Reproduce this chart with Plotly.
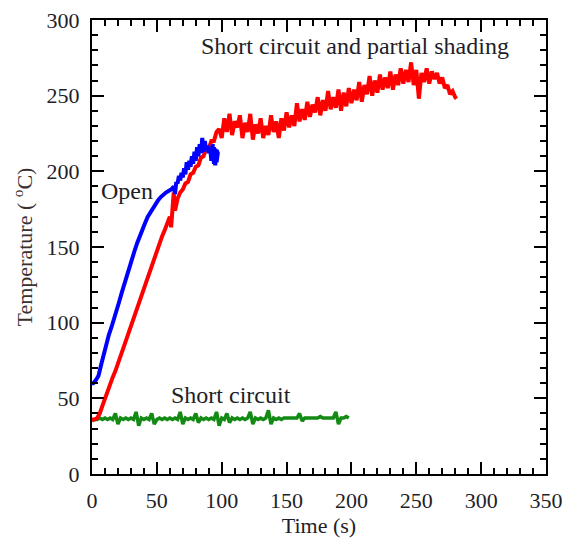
import plotly.graph_objects as go

# ---- data ----
red_t = [0, 2, 4, 6, 8, 10, 12, 14, 16, 18, 20, 22, 24, 26, 28, 30, 32, 34, 36, 38,
         40, 42, 44, 46, 48, 50, 52, 54, 56, 58, 60, 61, 62, 63, 64, 66, 68, 70, 72, 74,
         76, 78, 80, 82, 84, 86, 88, 90, 92, 94, 96, 98, 100, 102, 104, 106, 108, 110, 112, 114,
         116, 118, 120, 122, 124, 126, 128, 130, 132, 134, 136, 138, 140, 142, 144, 146, 148, 150, 152, 154,
         156, 158, 160, 162, 164, 166, 168, 170, 172, 174, 176, 178, 180, 182, 184, 186, 188, 190, 192, 194,
         196, 198, 200, 202, 204, 206, 208, 210, 212, 214, 216, 218, 220, 222, 224, 226, 228, 230, 232, 234,
         236, 238, 240, 242, 244, 246, 248, 250, 252, 254, 256, 258, 260, 262, 264, 266, 268, 270, 272, 274,
         276, 278, 280, 281]
red_T = [36, 36, 37, 40, 45, 50, 55, 59, 64, 68, 73, 78, 83, 88, 93, 98, 103, 108, 113, 118,
         123, 128, 133, 138, 142, 147, 152, 157, 161, 166, 170, 163, 176, 186, 174, 182, 186, 188, 192, 193,
         198, 199, 203, 204, 209, 210, 215, 215, 220, 220, 226, 228, 222, 235, 226, 238, 224, 233, 229, 237,
         222, 232, 226, 238, 221, 231, 225, 235, 222, 230, 224, 237, 226, 233, 222, 235, 227, 239, 229, 237,
         230, 245, 233, 241, 234, 246, 236, 244, 239, 249, 237, 247, 240, 253, 241, 249, 242, 254, 240, 252,
         243, 255, 245, 254, 247, 259, 246, 257, 251, 263, 250, 260, 252, 264, 254, 262, 255, 266, 254, 264,
         257, 268, 258, 267, 259, 272, 257, 267, 248, 265, 259, 268, 258, 266, 261, 265, 258, 262, 255, 257,
         251, 253, 249, 248]

blue_t = [0, 1, 3, 5, 7, 9, 11, 13, 15, 17, 19, 21, 23, 25, 27, 29, 31, 33, 35, 37,
          39, 41, 43, 45, 47, 49, 51, 53, 55, 57, 59, 61, 63, 64, 65, 66, 67, 68, 69, 70,
          71, 72, 73, 74, 75, 76, 77, 78, 79, 80, 81, 82, 83, 84, 85, 86, 87, 88, 89, 90,
          91, 92, 93, 94, 95, 96, 97, 96, 95, 94, 93]
blue_T = [60, 60, 62, 65, 72, 79, 86, 92, 97, 102, 108, 114, 120, 126, 132, 138, 143, 148, 153, 158,
          162, 166, 170, 173, 176, 179, 181, 183, 185, 186, 187, 188, 190, 185, 193, 192, 197, 194, 199, 196,
          202, 198, 206, 201, 207, 203, 210, 205, 213, 207, 216, 210, 218, 212, 222, 213, 220, 214, 217, 212,
          216, 207, 218, 205, 215, 206, 212, 214, 204, 216, 209]

green_t = [0, 2, 4, 6, 8, 10, 12, 14, 16, 18, 20, 22, 24, 26, 28, 30, 32, 34, 36, 38,
           40, 42, 44, 46, 48, 50, 52, 54, 56, 58, 60, 62, 64, 66, 68, 70, 72, 74, 76, 78,
           80, 82, 84, 86, 88, 90, 92, 94, 96, 98, 100, 102, 104, 106, 108, 110, 112, 114, 116, 118,
           120, 122, 124, 126, 128, 130, 132, 134, 136, 138, 140, 142, 144, 146, 148, 150, 152, 154, 156, 158,
           160, 162, 164, 166, 168, 170, 172, 174, 176, 178, 180, 182, 184, 186, 188, 190, 192, 194, 196, 198]
green_T = [35, 36, 36, 37, 36, 37, 36, 37, 36, 40, 33, 37, 36, 37, 36, 37, 36, 41, 32, 37,
           36, 37, 36, 40, 33, 36, 37, 36, 37, 36, 37, 36, 37, 36, 41, 33, 37, 36, 37, 36,
           40, 34, 37, 36, 37, 36, 37, 36, 41, 32, 37, 36, 40, 34, 37, 36, 37, 36, 37, 36,
           37, 41, 33, 37, 36, 37, 36, 37, 42, 33, 37, 36, 37, 36, 37, 37, 37, 37, 37, 37,
           40, 35, 37, 37, 37, 37, 37, 37, 38, 37, 37, 37, 37, 37, 41, 33, 37, 37, 38, 37]

labels = ["Open", "Short circuit", "Short circuit and partial shading"]
label_t = [27, 107, 203]
label_T = [187, 52, 283]

x_title = "Time (s)"
y_title = "Temperature ( <sup>o</sup>C)"

# ---- figure ----
FONT = "Liberation Serif, Times New Roman, serif"
TXT = "#1e1e28"

fig = go.Figure()
fig.add_trace(go.Scatter(x=green_t, y=green_T, mode="lines",
                         line=dict(color="#138a13", width=3.5), showlegend=False))
fig.add_trace(go.Scatter(x=red_t, y=red_T, mode="lines",
                         line=dict(color="#ff0000", width=4), showlegend=False))
fig.add_trace(go.Scatter(x=blue_t, y=blue_T, mode="lines",
                         line=dict(color="#0000ff", width=4), showlegend=False))

for txt, tx, ty in zip(labels, label_t, label_T):
    fig.add_annotation(x=tx, y=ty, text=txt, showarrow=False,
                       xanchor="center", yanchor="middle",
                       font=dict(family=FONT, size=24, color=TXT))

axis_common = dict(
    showgrid=False, zeroline=False, automargin=False,
    showline=True, linecolor="black", linewidth=2, mirror="ticks",
    ticks="inside", ticklen=12, tickwidth=2, tickcolor="black",
    tickfont=dict(family=FONT, size=22, color=TXT),
    minor=dict(ticks="inside", ticklen=6, tickwidth=2, tickcolor="black", dtick=10),
)

fig.update_xaxes(range=[0, 350], dtick=50, tick0=0, ticklabelstandoff=6,
                 title=dict(text=x_title, font=dict(family=FONT, size=22, color=TXT), standoff=2),
                 **axis_common)
fig.update_yaxes(range=[0, 300], dtick=50, tick0=0, ticklabelstandoff=6,
                 title=dict(text=y_title, font=dict(family=FONT, size=22, color="#3a3030"), standoff=8),
                 **axis_common)

fig.update_layout(
    width=570, height=539,
    margin=dict(l=92, r=24, t=20, b=65),
    paper_bgcolor="white", plot_bgcolor="white",
)

fig.write_html("out.html",
               config={"displayModeBar": False, "staticPlot": True},
               post_script="document.body.style.margin='0px';document.body.style.overflow='hidden';")
